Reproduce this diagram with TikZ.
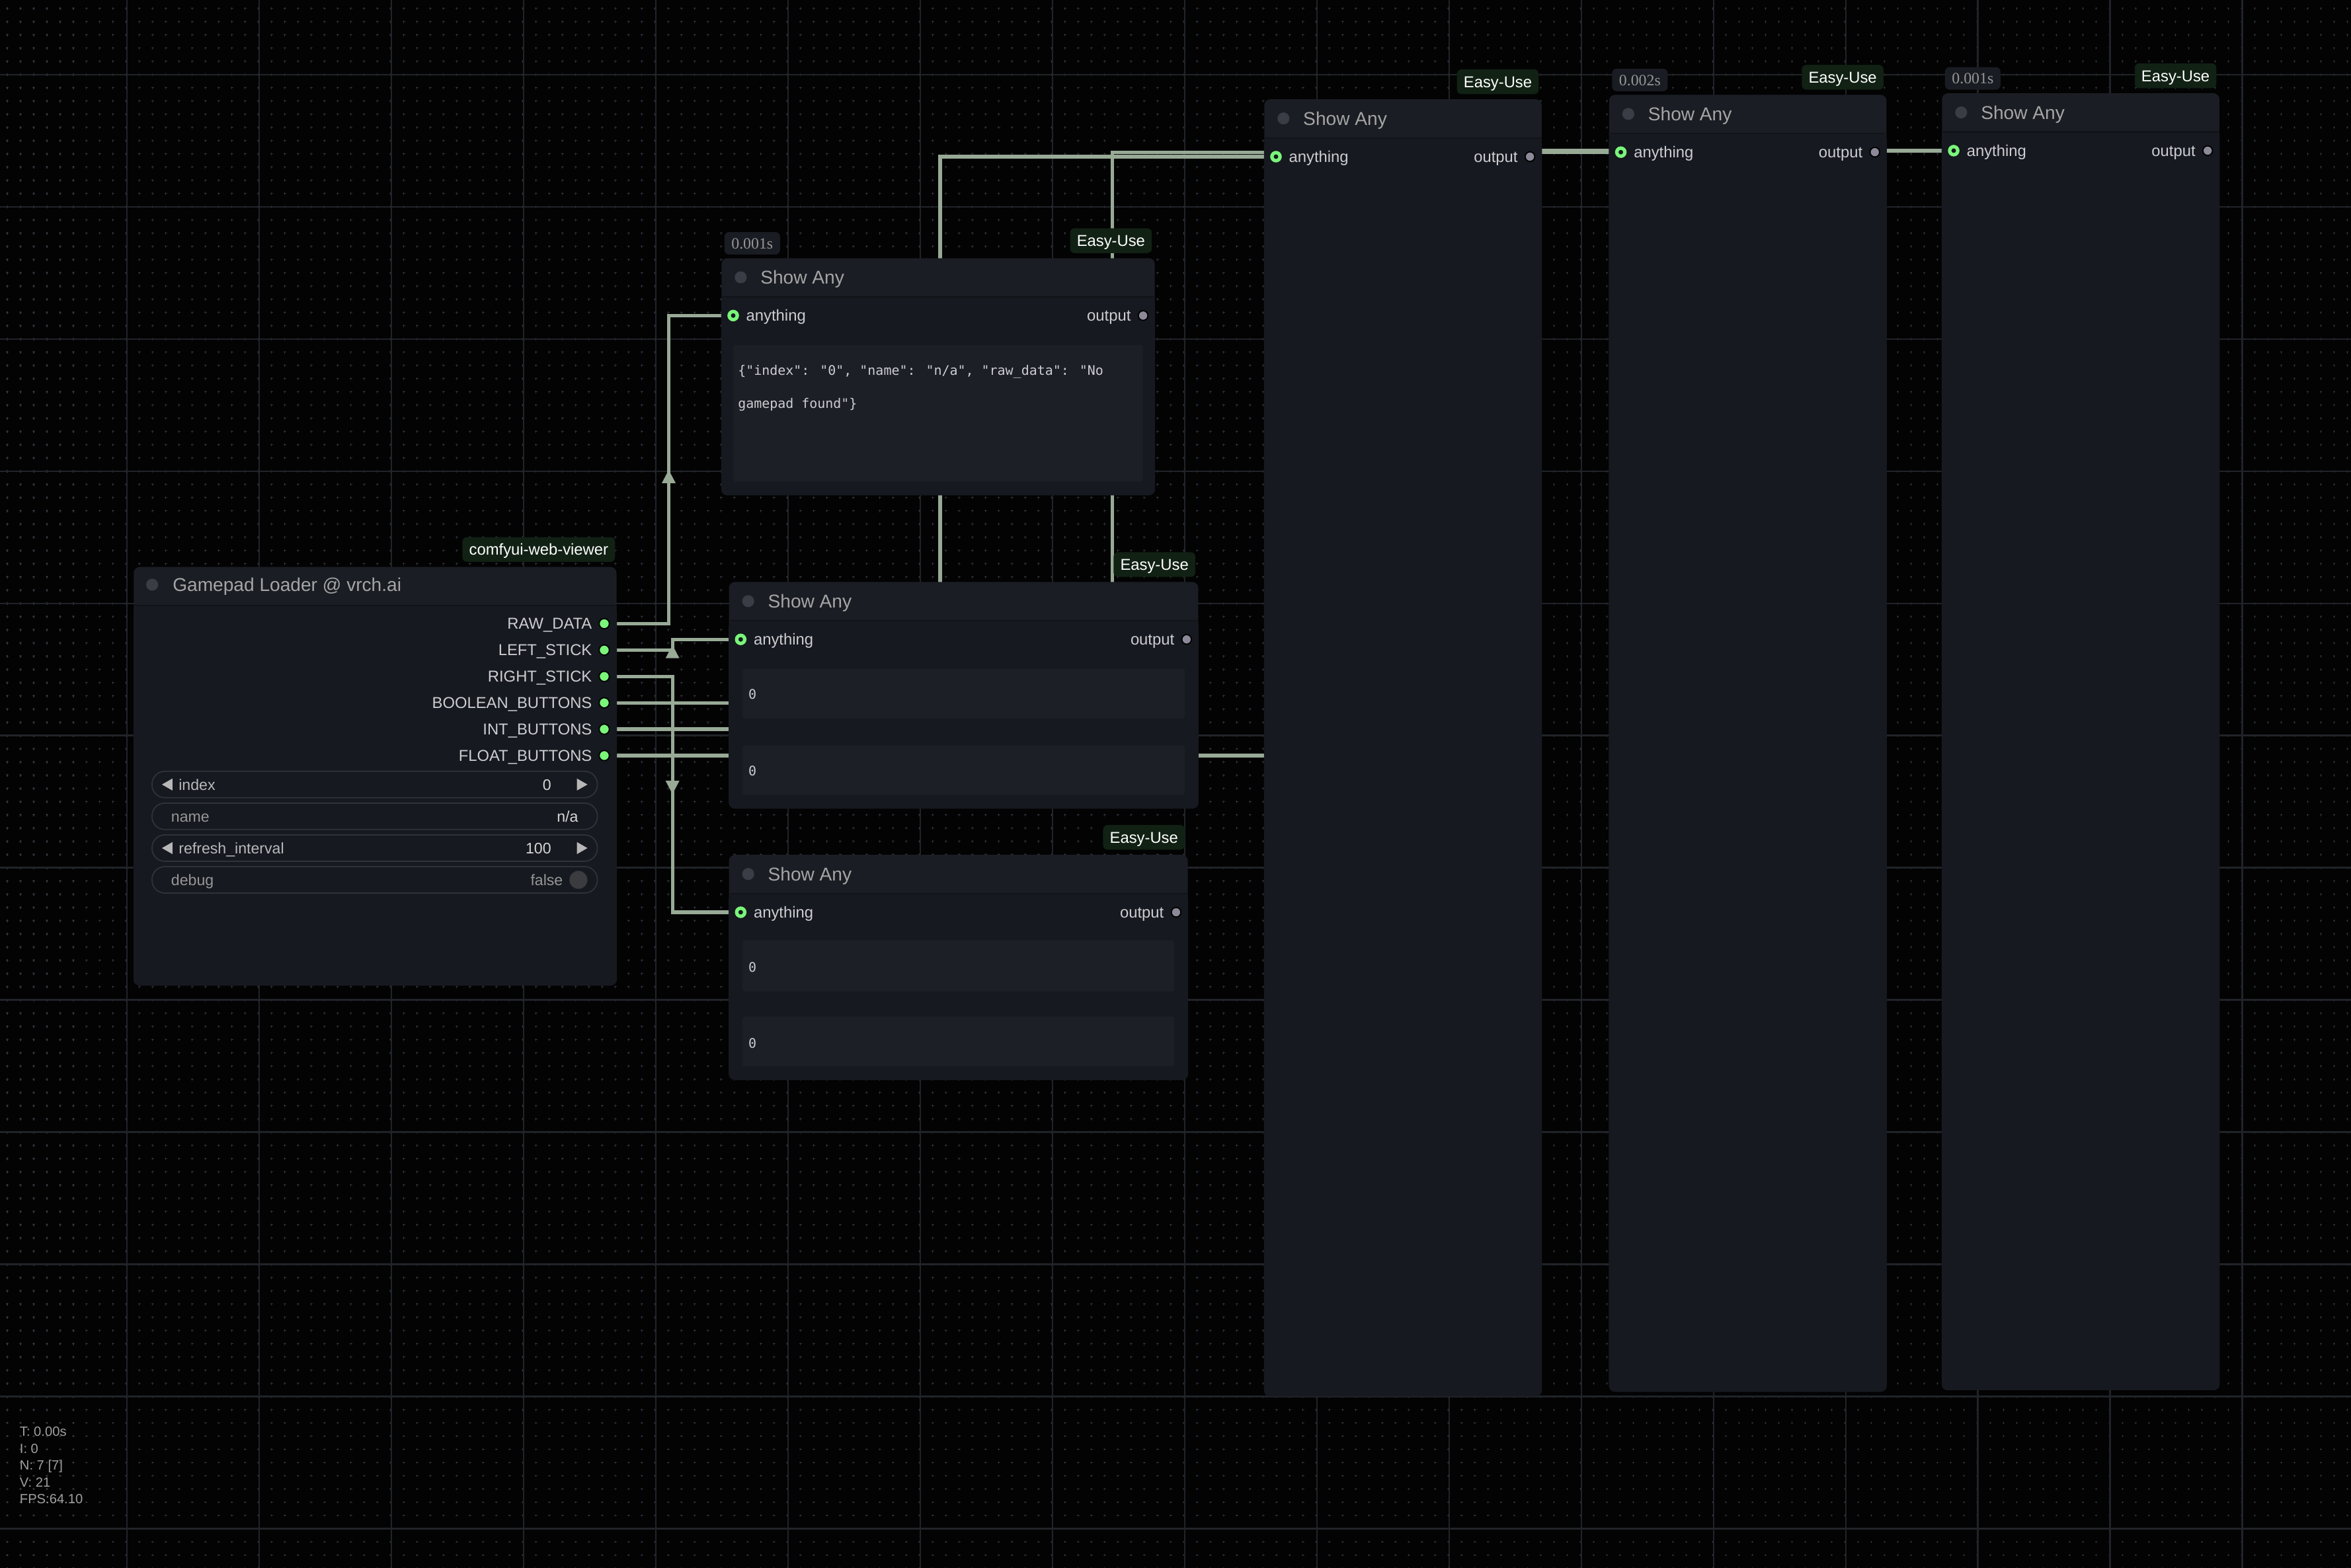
\documentclass[tikz,border=0pt]{standalone}
\usepackage{fontspec}
\setmainfont{Liberation Sans}
\newfontfamily\monofont{DejaVu Sans Mono}
\newfontfamily\timefont{Liberation Serif}
\usetikzlibrary{positioning,calc,arrows.meta,decorations.markings}
\pgfdeclarelayer{grid}
\pgfdeclarelayer{links}
\pgfsetlayers{grid,links,main}
\definecolor{canvas}{RGB}{3,3,4}
\definecolor{gridline}{RGB}{32,35,40}
\definecolor{griddot}{RGB}{46,49,55}
\definecolor{titlec}{RGB}{26,29,35}
\definecolor{nodebody}{RGB}{22,25,31}
\definecolor{nodesep}{RGB}{17,19,24}
\definecolor{dotgrey}{RGB}{58,61,69}
\definecolor{titlegrey}{RGB}{165,165,165}
\definecolor{slottext}{RGB}{205,205,210}
\definecolor{slotgreen}{RGB}{122,245,122}
\definecolor{slotgrey}{RGB}{140,138,153}
\definecolor{linkc}{RGB}{152,170,150}
\definecolor{badgec}{RGB}{17,33,20}
\definecolor{timec}{RGB}{25,28,34}
\definecolor{widgetc}{RGB}{28,31,38}
\definecolor{pillline}{RGB}{46,50,58}
\definecolor{dimtext}{RGB}{150,150,150}
\definecolor{valtext}{RGB}{215,215,215}
\definecolor{togglec}{RGB}{58,60,64}
\definecolor{stattext}{RGB}{160,160,160}

\begin{document}
\begin{tikzpicture}[x=1pt,y=-1pt,
  panel/.style={fill=titlec, rounded corners=4pt, anchor=north west, inner sep=0pt},
  sepline/.style={draw=nodesep, line width=1pt},
  titledot/.style={circle, fill=dotgrey, minimum size=8pt, inner sep=0pt},
  titletext/.style={anchor=west, inner sep=0pt, text height=8.9pt, text depth=0pt, text=titlegrey, font=\fontsize{12.4}{14}\selectfont},
  slotlbl/.style={inner sep=0pt, text height=7.5pt, text depth=0pt, text=slottext, font=\fontsize{10.5}{12}\selectfont},
  inring/.style={circle, draw=slotgreen, line width=2.3pt, fill=nodebody, minimum size=5.4pt, inner sep=0pt},
  outdot/.style={circle, draw=black, line width=0.8pt, fill=slotgrey, minimum size=6.4pt, inner sep=0pt},
  gpdot/.style={circle, draw=black, line width=0.8pt, fill=slotgreen, minimum size=6.8pt, inner sep=0pt},
  badge/.style={anchor=south east, fill=badgec, rounded corners=3pt, inner xsep=4.5pt, inner ysep=0pt, minimum height=16.5pt, text height=7.5pt, text depth=0pt, text=white, font=\fontsize{10.5}{12}\selectfont},
  timebox/.style={anchor=south west, fill=timec, rounded corners=3pt, inner sep=0pt, minimum width=37pt, minimum height=15pt, text height=7.3pt, text depth=0pt, text=dimtext, font=\timefont\fontsize{10.5}{12}\selectfont},
  textarea/.style={anchor=north west, fill=widgetc, inner sep=0pt, rounded corners=1.5pt},
  monotext/.style={anchor=west, inner sep=0pt, text height=6.5pt, text depth=0pt, text=slottext, font=\monofont\fontsize{8.8}{10}\selectfont},
  pill/.style={anchor=west, draw=pillline, line width=0.8pt, fill=nodebody, rounded corners=8.5pt, minimum width=297pt, minimum height=17.6pt, inner sep=0pt},
  wlbl/.style={inner sep=0pt, text height=7.3pt, text depth=0pt, font=\fontsize{10.2}{12}\selectfont},
  link/.style={draw=linkc, line width=2.3pt, postaction={decorate}, decoration={markings, mark=at position 0.5 with {\arrow[linkc]{Triangle[width=8.5pt,length=9pt]}}}}]

\useasboundingbox (0,0) rectangle (1568,1045.9);

% canvas grid
\begin{pgfonlayer}{grid}
\fill[canvas] (0,0) rectangle (1568,1045.9);
\foreach \j in {0,...,118}
  \draw[griddot, line width=0.45pt, dash pattern=on 1.5pt off 7.318pt] (4.1,{5.73+8.818*\j}) -- (1568,{5.73+8.818*\j});
\foreach \i in {0,...,177}
  \draw[griddot, line width=0.45pt, dash pattern=on 1.5pt off 7.318pt] ({4.85+8.818*\i},4.98) -- ({4.85+8.818*\i},1045.9);
\foreach \k in {0,...,16}
  \draw[gridline, line width=1.2pt] ({84.7+88.18*\k},0) -- ({84.7+88.18*\k},1045.9);
\foreach \k in {0,...,11}
  \draw[gridline, line width=1.2pt] (0,{49.8+88.18*\k}) -- (1568,{49.8+88.18*\k});
\end{pgfonlayer}

% gamepad loader
\node[panel, minimum width=322pt, minimum height=279pt] (loader) at (89,378) {};
\fill[nodebody, rounded corners=4pt] ([shift={(0,26)}]loader.north west) rectangle (loader.south east);
\draw[sepline] ([shift={(0,26)}]loader.north west) -- ([shift={(0,26)}]loader.north east);
\node[titledot] (loader-dot) at ([shift={(12.5,12)}]loader.north west) {};
\node[titletext] (loader-title) at ([shift={(26,12)}]loader.north west) {Gamepad Loader @ vrch.ai};
\node[badge] (loader-badge) at ([shift={(-1,-3)}]loader.north east) {comfyui-web-viewer};
\foreach \k/\lab [count=\i from 0] in {raw/RAW\_DATA, left/LEFT\_STICK, right/RIGHT\_STICK, bool/BOOLEAN\_BUTTONS, int/INT\_BUTTONS, float/FLOAT\_BUTTONS}{
  \node[gpdot] (gp-\k) at (403,{416+17.6*\i}) {};
  \node[slotlbl, anchor=east] (gp-\k-l) at ([shift={(-8,0)}]gp-\k.center) {\lab};
}
\node[pill] (w-index) at (101,523.3) {};
\node[pill] (w-name) at (101,544.5) {};
\node[pill] (w-refresh) at (101,565.7) {};
\node[pill] (w-debug) at (101,586.9) {};
\fill[valtext!85!black] ([shift={(7,0)}]w-index.west) -- ++(7,-4) -- ++(0,8) -- cycle;
\fill[valtext!85!black] ([shift={(-7,0)}]w-index.east) -- ++(-7,-4) -- ++(0,8) -- cycle;
\fill[valtext!85!black] ([shift={(7,0)}]w-refresh.west) -- ++(7,-4) -- ++(0,8) -- cycle;
\fill[valtext!85!black] ([shift={(-7,0)}]w-refresh.east) -- ++(-7,-4) -- ++(0,8) -- cycle;
\node[wlbl, anchor=west, text=slottext!90!black] (w-index-l) at ([shift={(18,0)}]w-index.west) {index};
\node[wlbl, anchor=east, text=valtext] (w-index-v) at ([shift={(-31,0)}]w-index.east) {0};
\node[wlbl, anchor=west, text=dimtext] (w-name-l) at ([shift={(13,0)}]w-name.west) {name};
\node[wlbl, anchor=east, text=valtext] (w-name-v) at ([shift={(-13,0)}]w-name.east) {n/a};
\node[wlbl, anchor=west, text=slottext!90!black] (w-refresh-l) at ([shift={(18,0)}]w-refresh.west) {refresh\_interval};
\node[wlbl, anchor=east, text=valtext] (w-refresh-v) at ([shift={(-31,0)}]w-refresh.east) {100};
\node[wlbl, anchor=west, text=dimtext] (w-debug-l) at ([shift={(13,0)}]w-debug.west) {debug};
\node[circle, fill=togglec, minimum size=12pt, inner sep=0pt] (w-debug-t) at ([shift={(-13,0)}]w-debug.east) {};
\node[wlbl, anchor=east, text=dimtext] (w-debug-v) at ([shift={(-4,0)}]w-debug-t.west) {false};

% show any nodes
\foreach \n/\x/\y/\w/\h in {A/481/172/289/158, B/486/388/313/151, C/486/570/306/150, D/843/66/185/865, E/1073/63/185/865, F/1295/62/185/865}{
  \node[panel, minimum width=\w pt, minimum height=\h pt] (\n) at (\x,\y) {};
  \fill[nodebody, rounded corners=4pt] ([shift={(0,26)}]\n.north west) rectangle (\n.south east);
  \draw[sepline] ([shift={(0,26)}]\n.north west) -- ([shift={(0,26)}]\n.north east);
  \node[titledot] (\n-dot) at ([shift={(13,13)}]\n.north west) {};
  \node[titletext] (\n-title) at ([shift={(26,13)}]\n.north west) {Show Any};
  \node[inring] (\n-in) at ([shift={(8,38.5)}]\n.north west) {};
  \node[slotlbl, anchor=west] (\n-inl) at ([shift={(8.5,0)}]\n-in.center) {anything};
  \node[outdot] (\n-out) at ([shift={(-8,38.5)}]\n.north east) {};
  \node[slotlbl, anchor=east] (\n-outl) at ([shift={(-8,0)}]\n-out.center) {output};
  \node[badge] (\n-badge) at ([shift={(-2,-3)}]\n.north east) {Easy-Use};
}
\node[timebox] (A-time) at ([shift={(2,-2)}]A.north west) {0.001s};
\node[timebox] (E-time) at ([shift={(2,-2)}]E.north west) {0.002s};
\node[timebox] (F-time) at ([shift={(2,-2)}]F.north west) {0.001s};

% widget text
\node[textarea, minimum width=273pt, minimum height=91pt] (A-text) at (489,230) {};
\node[monotext] (A-line1) at (492,247) {\{"index": "0", "name": "n/a", "raw\_data": "No};
\node[monotext] (A-line2) at (492,269) {gamepad found"\}};
\node[textarea, minimum width=295pt, minimum height=33pt] (B-text1) at (495,446) {};
\node[textarea, minimum width=295pt, minimum height=33pt] (B-text2) at (495,497) {};
\node[monotext] (B-val1) at (499,463) {0};
\node[monotext] (B-val2) at (499,514) {0};
\node[textarea, minimum width=288pt, minimum height=34pt] (C-text1) at (495,627) {};
\node[textarea, minimum width=288pt, minimum height=33pt] (C-text2) at (495,678) {};
\node[monotext] (C-val1) at (499,645) {0};
\node[monotext] (C-val2) at (499,696) {0};

% links
\begin{pgfonlayer}{links}
\draw[link] (gp-raw.center) -| ($(gp-raw.center)!0.5!(A-in.center)$) |- (A-in.center);
\draw[link] (gp-left.center) -| ($(gp-left.center)!0.5!(B-in.center)$) |- (B-in.center);
\draw[link] (gp-right.center) -| ($(gp-right.center)!0.5!(C-in.center)$) |- (C-in.center);
\draw[link] (gp-bool.center) -| ($(gp-bool.center)!0.5!(D-in.center)$) |- (D-in.center);
\draw[link] (gp-int.center) -| ($(gp-int.center)!0.5!(E-in.center)$) |- (E-in.center);
\draw[link] (gp-float.center) -| ($(gp-float.center)!0.5!(F-in.center)$) |- (F-in.center);
\end{pgfonlayer}

% stats
\node[anchor=north west, align=left, inner sep=0pt, text=stattext, font=\fontsize{8.9}{11.3}\selectfont] (stats) at (13,951.5) {T: 0.00s\\I: 0\\N: 7 [7]\\V: 21\\FPS:64.10};
\end{tikzpicture}
\end{document}
